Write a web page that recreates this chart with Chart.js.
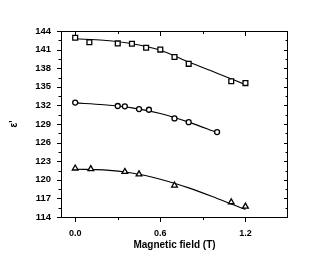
<!DOCTYPE html>
<html>
<head>
<meta charset="utf-8">
<script src="https://cdn.jsdelivr.net/npm/chart.js@4/dist/chart.umd.min.js"></script>
<style>
  html, body { margin: 0; padding: 0; background: #fff; }
  #wrap { width: 336px; height: 260px; }
</style>
</head>
<body>
<div id="wrap"><canvas id="chart" width="336" height="260"></canvas></div>
<script>
var sqField = [0, 0.1, 0.3, 0.4, 0.5, 0.6, 0.7, 0.8, 1.1, 1.2];
var sqEps   = [142.9, 142.2, 142.0, 141.95, 141.3, 141.0, 139.8, 138.7, 135.9, 135.6];

var ciField = [0, 0.3, 0.35, 0.45, 0.52, 0.7, 0.8, 1.0];
var ciEps   = [132.45, 131.9, 131.85, 131.4, 131.3, 129.9, 129.3, 127.7];

var trField = [0, 0.11, 0.35, 0.45, 0.7, 1.1, 1.2];
var trEps   = [121.85, 121.75, 121.3, 120.9, 119.1, 116.4, 115.7];

// fitted curves (knots)
var fitField = [0, 0.2, 0.4, 0.6, 0.8, 1.0, 1.2];
var sqFit    = [142.75, 142.5, 141.95, 140.9, 139.0, 137.2, 135.35];
var ciFitField = [0, 0.2, 0.4, 0.6, 0.8, 1.0];
var ciFit    = [132.4, 132.1, 131.6, 130.7, 129.3, 127.6];
var trFit    = [121.7, 121.6, 121.1, 120.1, 118.7, 117.0, 115.2];

// axis ticks
var xMajor = [0, 0.6, 1.2];
var xMinor = [0.3, 0.9];
var yMajor = [114, 117, 120, 123, 126, 129, 132, 135, 138, 141, 144];
var yMinor = [115.5, 118.5, 121.5, 124.5, 127.5, 130.5, 133.5, 136.5, 139.5, 142.5];

function pts(xs, ys) {
    return xs.map(function (v, i) { return {x: v, y: ys[i]}; });
}

function fitSet(xs, ys) {
    return {
        type: 'line',
        data: pts(xs, ys),
        borderColor: '#000',
        borderWidth: 1.1,
        pointRadius: 0,
        fill: false,
        cubicInterpolationMode: 'monotone',
        order: 2
    };
}

function markSet(xs, ys, style, r) {
    return {
        type: 'scatter',
        data: pts(xs, ys),
        pointStyle: style,
        pointRadius: r,
        pointBackgroundColor: '#fff',
        pointBorderColor: '#000',
        pointBorderWidth: 1.3,
        showLine: false,
        order: 1
    };
}

// box frame with outward ticks on left/bottom, inward on top/right
var frameTicks = {
    id: 'frameTicks',
    afterDatasetsDraw: function (chart) {
        var ctx = chart.ctx, a = chart.chartArea;
        var x = chart.scales.x, y = chart.scales.y;
        ctx.save();
        ctx.strokeStyle = '#000';
        ctx.lineWidth = 1;
        ctx.strokeRect(a.left + 0.5, a.top + 0.5, a.right - a.left - 1, a.bottom - a.top);
        ctx.beginPath();
        function xt(v, len) {
            var px = Math.round(x.getPixelForValue(v)) + 0.5;
            ctx.moveTo(px, a.bottom); ctx.lineTo(px, a.bottom + len);
            ctx.moveTo(px, a.top); ctx.lineTo(px, a.top + len);
        }
        function yt(v, len) {
            var py = Math.round(y.getPixelForValue(v)) + 0.5;
            ctx.moveTo(a.left, py); ctx.lineTo(a.left - len, py);
            ctx.moveTo(a.right, py); ctx.lineTo(a.right - len, py);
        }
        xMajor.forEach(function (v) { xt(v, 5); });
        xMinor.forEach(function (v) { xt(v, 3); });
        yMajor.forEach(function (v) { yt(v, 4); });
        yMinor.forEach(function (v) { yt(v, 2.5); });
        ctx.stroke();
        ctx.restore();
    }
};

var fam = '"Liberation Sans", Arial, sans-serif';

new Chart(document.getElementById('chart'), {
    type: 'scatter',
    data: {
        datasets: [
            fitSet(fitField, sqFit),
            fitSet(ciFitField, ciFit),
            fitSet(fitField, trFit),
            markSet(sqField, sqEps, 'rect', 3.4),
            markSet(ciField, ciEps, 'circle', 2.5),
            markSet(trField, trEps, 'triangle', 3.3)
        ]
    },
    options: {
        responsive: false,
        animation: false,
        layout: {padding: {top: 31, right: 48, left: 0, bottom: 0}},
        plugins: {legend: {display: false}, tooltip: {enabled: false}},
        scales: {
            x: {
                type: 'linear',
                min: -0.1,
                max: 1.5,
                afterBuildTicks: function (s) {
                    s.ticks = xMajor.map(function (v) { return {value: v}; });
                },
                afterFit: function (s) { s.height = 43; },
                grid: {display: false, drawTicks: false},
                border: {display: false},
                ticks: {
                    color: '#000',
                    font: {family: fam, size: 9, weight: 'bold'},
                    padding: 11,
                    autoSkip: false,
                    maxRotation: 0,
                    minRotation: 0,
                    callback: function (v) { return Number(v).toFixed(1); }
                },
                title: {
                    display: true,
                    text: 'Magnetic field (T)',
                    color: '#000',
                    font: {family: fam, size: 10, weight: 'bold'},
                    padding: {top: 0, bottom: 9}
                }
            },
            y: {
                type: 'linear',
                min: 114,
                max: 144,
                afterBuildTicks: function (s) {
                    s.ticks = yMajor.map(function (v) { return {value: v}; });
                },
                afterFit: function (s) { s.width = 61; },
                grid: {display: false, drawTicks: false},
                border: {display: false},
                ticks: {
                    color: '#000',
                    font: {family: fam, size: 9.5, weight: 'bold'},
                    padding: 10
                },
                title: {
                    display: true,
                    text: "ε'",
                    color: '#000',
                    font: {family: fam, size: 10, weight: 'bold'},
                    padding: {top: 8, bottom: 0}
                }
            }
        }
    },
    plugins: [frameTicks]
});
</script>
</body>
</html>
